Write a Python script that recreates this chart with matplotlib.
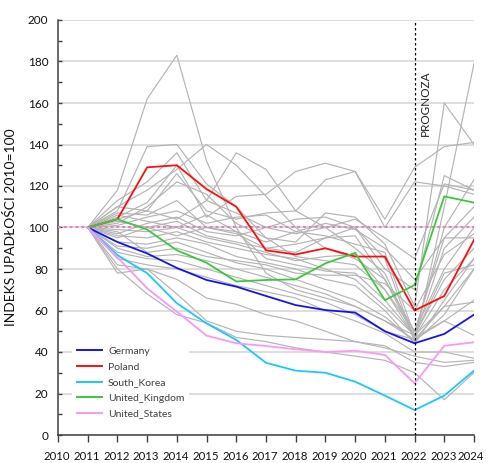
import matplotlib
matplotlib.use("Agg")
import matplotlib.pyplot as plt
import matplotlib.transforms as mtransforms
from matplotlib.ticker import MultipleLocator

plt.rcParams['font.family'] = ['Lato', 'DejaVu Sans']

years = list(range(2011, 2025))

# Highlighted countries (index, 2010 = 100)
germany = [100, 93, 87.5, 80.5, 74.7, 71.5, 67, 62.6, 60.2, 59, 50, 44.2, 48.7, 58]
poland = [100, 104, 129, 130, 118.5, 110, 89, 87, 90, 86, 86, 60, 67, 94]
south_korea = [100, 86.7, 78, 63.5, 53.8, 45.8, 34.8, 31, 30, 25.7, 19, 12, 19, 31]
united_kingdom = [100, 104, 99, 89, 83, 74, 74.7, 75, 82.7, 87.8, 65, 72.3, 115, 112]
united_states = [100, 85.6, 70.7, 59.4, 47.9, 44.2, 42.9, 41.3, 40, 40.6, 38.6, 24.9, 43, 44.7]

highlight_names = ["Germany", "Poland", "South_Korea", "United_Kingdom", "United_States"]
highlight_values = [germany, poland, south_korea, united_kingdom, united_states]
highlight_colors = ["#1414f0", "#ff0d0d", "#19c8ff", "#3cc83c", "#ff96f5"]

# Remaining countries
other_countries = [
    [100, 118, 162, 183, 132, 100, 78, 70, 66, 62, 55, 48, 62, 80],
    [100, 108, 139, 140, 121, 110, 95, 86, 84, 82, 70, 47, 55, 65],
    [100, 110, 118, 128, 140, 130, 115, 100, 90, 85, 75, 50, 95, 110],
    [100, 113, 122, 136, 113, 136, 128, 108, 100, 90, 78, 47, 70, 85],
    [100, 105, 112, 130, 105, 115, 116, 127, 131, 127, 100, 122, 120, 116],
    [100, 104, 108, 126, 108, 104, 107, 108, 123, 127, 104, 129, 139, 141],
    [100, 102, 110, 122, 116, 102, 95, 93, 107, 105, 92, 62, 160, 140],
    [100, 107, 106, 113, 100, 97, 90, 88, 95, 100, 85, 45, 110, 179],
    [100, 101, 105, 108, 102, 105, 106, 98, 96, 92, 88, 48, 100, 123],
    [100, 97, 102, 105, 98, 96, 100, 104, 105, 100, 80, 70, 125, 118],
    [100, 95, 100, 103, 96, 93, 90, 92, 95, 96, 75, 47, 90, 105],
    [100, 99, 98, 100, 95, 92, 88, 84, 86, 87, 70, 50, 80, 100],
    [100, 96, 95, 98, 93, 90, 87, 85, 80, 75, 62, 48, 75, 90],
    [100, 93, 92, 95, 92, 86, 83, 80, 75, 72, 60, 44, 65, 85],
    [100, 91, 90, 93, 88, 83, 80, 75, 70, 65, 57, 45, 58, 80],
    [100, 90, 86, 87, 84, 80, 76, 72, 68, 62, 55, 46, 62, 64],
    [100, 88, 85, 84, 80, 76, 72, 68, 64, 58, 50, 46, 55, 48],
    [100, 85, 82, 80, 76, 72, 69, 66, 60, 55, 49, 40, 40, 37],
    [100, 82, 80, 75, 66, 63, 58, 55, 50, 45, 43, 35, 33, 35],
    [100, 80, 68, 58, 54, 47, 45, 42, 40, 38, 36, 30, 17, 30],
    [100, 78, 80, 68, 55, 50, 48, 47, 46, 45, 42, 38, 35, 36],
    [100, 98, 88, 90, 86, 84, 82, 78, 77, 77, 73, 60, 87, 97],
    [100, 103, 100, 96, 100, 98, 93, 98, 102, 99, 90, 75, 95, 95],
    [100, 106, 103, 100, 106, 98, 85, 82, 79, 78, 65, 48, 78, 82],
    [100, 110, 108, 104, 113, 107, 100, 97, 100, 104, 95, 85, 121, 118],
]

x_tick_labels = [str(y) for y in range(2010, 2025)]

fig = plt.figure(figsize=(4.86, 4.63), dpi=100)
ax = fig.add_axes([58 / 486, 28 / 463, 416 / 486, 415 / 463])

for series in other_countries:
    ax.plot(years, series, color="#b4b4b4", lw=0.85, zorder=2)

for name, series, color in zip(highlight_names, highlight_values, highlight_colors):
    ax.plot(years, series, color=color, lw=1.3, label=name, zorder=4)

# Base year level and forecast boundary
ax.axhline(100, color="#e97cc4", lw=1.4, linestyle=(0, (1.5, 1.5)), zorder=3)
ax.axvline(2022, color="black", lw=0.9, linestyle=(0, (2, 2)), zorder=5)
ax.text(2022.37, 160, "PROGNOZA", rotation=90, ha="center", va="center",
        fontsize=8.5, color="#222222")

ax.set_xlim(2010, 2024)
ax.set_ylim(0, 200)
ax.set_xticks(range(2010, 2025))
ax.set_xticklabels(x_tick_labels)
ax.yaxis.set_major_locator(MultipleLocator(20))
ax.yaxis.set_minor_locator(MultipleLocator(10))
ax.grid(axis="y", which="major", color="#d4d4d4", lw=1.1, zorder=0)
ax.set_axisbelow(True)

for side in ("top", "right"):
    ax.spines[side].set_visible(False)
for side in ("left", "bottom"):
    ax.spines[side].set_color("#404040")
    ax.spines[side].set_linewidth(1.1)

ax.tick_params(axis="x", direction="out", length=5, width=1, color="#404040",
               labelsize=8.2, pad=6.8, labelcolor="#111111")
ax.tick_params(axis="y", which="major", direction="in", length=3, width=1,
               color="#404040", labelsize=8.5, pad=7, labelcolor="#111111")
ax.tick_params(axis="y", which="minor", direction="in", length=3, width=1,
               color="#404040")

# Nudge the year labels slightly left so the last one stays inside the figure
labels = ax.get_xticklabels()
for i, lab in enumerate(labels):
    dx = -3.5 if i == len(labels) - 1 else -1.0
    lab.set_transform(lab.get_transform() +
                      mtransforms.ScaledTranslation(dx / 100, 0, fig.dpi_scale_trans))

ax.set_ylabel("INDEKS UPADŁOŚCI 2010=100", fontsize=10, color="#111111", labelpad=8)

leg = ax.legend(loc="lower left", bbox_to_anchor=(0.034, 0.029), frameon=True,
                fontsize=7.5, handlelength=2.4, handletextpad=0.6,
                labelspacing=0.6, borderpad=0.45, borderaxespad=0)
leg.get_frame().set_facecolor("white")
leg.get_frame().set_edgecolor("none")
leg.get_frame().set_alpha(1)
leg.set_zorder(6)
for t in leg.get_texts():
    t.set_color("#404040")
for h in leg.get_lines():
    h.set_linewidth(1.4)

fig.savefig("out.png", dpi=100)
